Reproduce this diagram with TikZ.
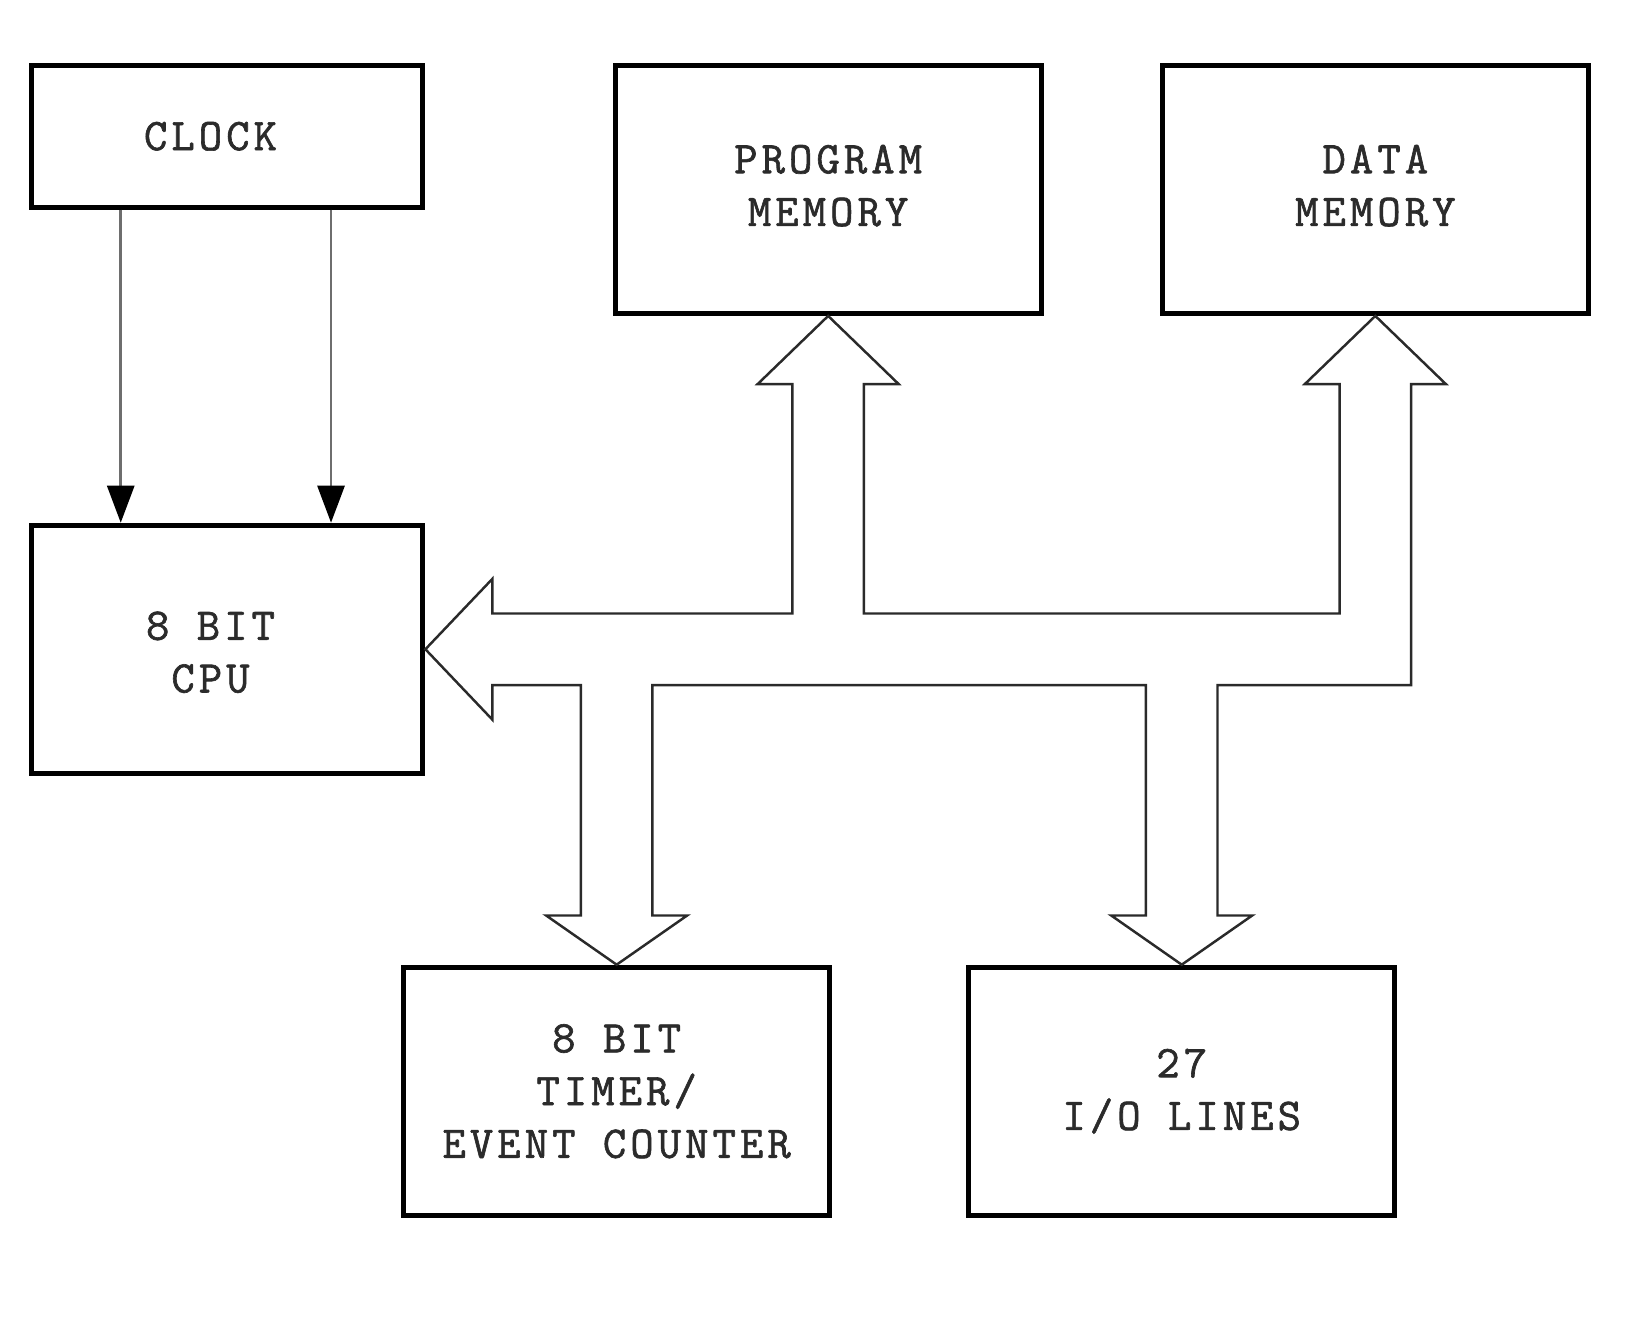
\documentclass[tikz,border=0pt]{standalone}
\usepackage{fontspec}
\setmainfont{Latin Modern Mono}[LetterSpace=9, FakeBold=1.4]
\usetikzlibrary{arrows.meta}
\definecolor{inkgray}{HTML}{2B2B2B}
\definecolor{shaftgray}{HTML}{6E6E6E}
\definecolor{busgray}{HTML}{2A2A2A}

\begin{document}
\begin{tikzpicture}[
  x=0.010523cm, y=-0.010523cm,
  boxfont/.style={font=\fontsize{12.9}{15}\selectfont, text=inkgray, align=center},
  block/.style={draw=black, line width=1.4pt, inner sep=0pt, boxfont},
  narrow/.style={block, minimum width=3.915cm},
  wide/.style={block, minimum width=4.262cm, minimum height=2.483cm},
  inlabel/.style={boxfont, xshift=-0.168cm},
  clkarrow/.style={draw=shaftgray, line width=0.8pt,
                   -{Triangle[length=3.7mm, width=2.7mm, color=black]}},
  bus/.style={draw=busgray, line width=0.7pt, line join=miter}
]
  \useasboundingbox (0,0) rectangle (1568,1256);

  \node[narrow, minimum height=1.421cm, label={[inlabel]center:CLOCK}] (clock) at (216,129.5) {};
  \node[narrow, minimum height=2.483cm, label={[inlabel, yshift=-0.03cm]center:8 BIT\\CPU}] (cpu) at (216,617) {};
  \node[wide, text depth=0.08cm] (prog) at (787,180) {PROGRAM\\MEMORY};
  \node[wide, text depth=0.08cm] (data) at (1307,180) {DATA\\MEMORY};
  \node[wide] (timer) at (586,1037) {8 BIT\\TIMER/\\EVENT COUNTER};
  \node[wide] (io) at (1123,1037) {27\\I/O LINES};

  % clock lines
  \foreach \dx in {0.916cm,3.020cm}
    \draw[clkarrow] ([xshift=\dx]clock.south west) -- ([xshift=\dx]cpu.north west);

  % internal bus
  \draw[bus] (cpu.east) -- (468,550) -- (468,583) -- (753,583) -- (753,365) -- (720,365)
    -- (prog.south) -- (854,365) -- (821,365) -- (821,583) -- (1273,583) -- (1273,365)
    -- (1240,365) -- (data.south) -- (1374,365) -- (1341,365) -- (1341,651) -- (1157,651)
    -- (1157,870) -- (1190,870) -- (io.north) -- (1056,870) -- (1089,870) -- (1089,651)
    -- (620,651) -- (620,870) -- (653,870) -- (timer.north) -- (519,870) -- (552,870)
    -- (552,651) -- (468,651) -- (468,684) -- cycle;
\end{tikzpicture}
\end{document}
